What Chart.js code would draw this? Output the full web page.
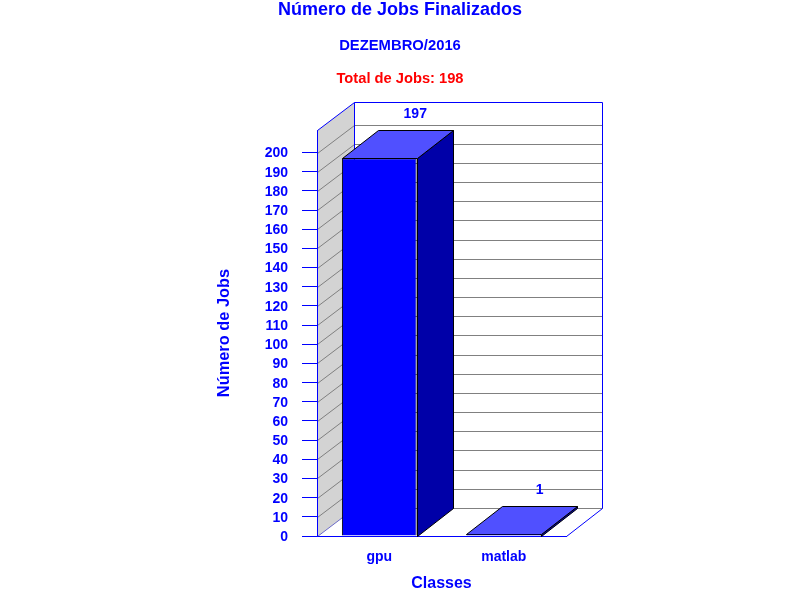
<!DOCTYPE html>
<html>
<head>
<meta charset="utf-8">
<style>html,body{margin:0;padding:0;background:#fff}canvas{display:block}</style>
<script src="https://cdn.jsdelivr.net/npm/chart.js@4/dist/chart.umd.min.js"></script>
</head>
<body>
<canvas id="c" width="800" height="600"></canvas>
<script>
const categories = ["gpu", "matlab"];
const jobs = [197, 1];
const chartTitle = "Número de Jobs Finalizados";
const chartSubtitle = "DEZEMBRO/2016";
const totalLabel = "Total de Jobs: 198";
const xAxisTitle = "Classes";
const yAxisTitle = "Número de Jobs";

const FF = '"Liberation Sans", Arial, sans-serif';
const DX = 36, DY = 28, WALL_DX = 37;
const BLUE = "#0000ff", GREY = "#808080";

function poly(ctx, pts, fill, stroke, lw) {
  ctx.beginPath();
  pts.forEach((p, i) => i ? ctx.lineTo(p[0], p[1]) : ctx.moveTo(p[0], p[1]));
  ctx.closePath();
  if (fill) { ctx.fillStyle = fill; ctx.fill(); }
  if (stroke) { ctx.strokeStyle = stroke; ctx.lineWidth = lw || 1; ctx.stroke(); }
}
function line(ctx, x1, y1, x2, y2, color, lw) {
  ctx.beginPath(); ctx.moveTo(x1, y1); ctx.lineTo(x2, y2);
  ctx.strokeStyle = color; ctx.lineWidth = lw || 1; ctx.stroke();
}

const box3d = {
  id: "box3d",
  beforeDatasetsDraw(chart) {
    const ctx = chart.ctx, a = chart.chartArea, ys = chart.scales.y;
    const L = a.left + .5, R = a.right + .5, T = a.top + .5, B = a.bottom + .5;
    ctx.save();
    poly(ctx, [[L, T], [L + WALL_DX, T - DY], [L + WALL_DX, B - DY], [L, B]], "#d3d3d3");
    ys.ticks.forEach(t => {
      const y = Math.round(ys.getPixelForValue(t.value)) + .5;
      line(ctx, L, y, L + WALL_DX, y - DY, t.value === 0 ? "#6a6ac8" : GREY);
      line(ctx, L + WALL_DX, y - DY, R + DX, y - DY, GREY);
    });
    line(ctx, L + WALL_DX, T - DY, L + WALL_DX, B - DY, BLUE);
    poly(ctx, [[L, T], [L + WALL_DX, T - DY], [R + DX, T - DY], [R + DX, B - DY], [R, B], [L, B]], null, BLUE);

    const meta = chart.getDatasetMeta(0);
    meta.data.forEach(el => {
      const p = el.getProps(["x", "y", "base", "width"], true);
      const l = Math.round(p.x - p.width / 2) + .5, r = Math.round(p.x + p.width / 2) + .5;
      const t = Math.round(p.y) + .5, b = Math.round(p.base) + .5;
      poly(ctx, [[r, t], [r + DX, t - DY], [r + DX, b - DY], [r, b]], "#0000a8", "#000000");
      poly(ctx, [[l, t], [l + DX, t - DY], [r + DX, t - DY], [r, t]], "#5050ff", "#000000");
    });
    ctx.restore();
  },
  afterDatasetsDraw(chart) {
    const ctx = chart.ctx;
    const meta = chart.getDatasetMeta(0);
    ctx.save();
    ctx.textAlign = "center"; ctx.textBaseline = "middle";
    ctx.font = "bold 14px " + FF; ctx.fillStyle = BLUE;
    meta.data.forEach((el, i) => {
      ctx.fillText(String(jobs[i]), el.x + DX, el.y - DY - 16);
    });
    ctx.font = "bold 14.7px " + FF;
    ctx.fillStyle = "#ff0000";
    ctx.fillText(totalLabel, 400, 79);
    ctx.restore();
  }
};

new Chart(document.getElementById("c"), {
  type: "bar",
  data: {
    labels: categories,
    datasets: [{
      data: jobs,
      backgroundColor: BLUE,
      borderColor: "#000000",
      borderWidth: 1,
      barPercentage: 0.6,
      categoryPercentage: 1
    }]
  },
  plugins: [box3d],
  options: {
    responsive: false,
    animation: false,
    devicePixelRatio: 1,
    layout: { padding: { left: 234, right: 234, top: 0, bottom: 7 } },
    plugins: {
      legend: { display: false },
      tooltip: { enabled: false },
      title: {
        display: true, text: chartTitle, color: BLUE,
        font: { family: FF, size: 18, weight: "bold", lineHeight: 1 },
        padding: { top: 1, bottom: 20 }
      },
      subtitle: {
        display: true, text: chartSubtitle, color: BLUE,
        font: { family: FF, size: 14.8, weight: "bold", lineHeight: 1 },
        padding: { top: 0, bottom: 76.2 }
      }
    },
    scales: {
      x: {
        grid: { display: false },
        border: { color: BLUE },
        ticks: { color: BLUE, padding: 5, font: { family: FF, size: 14, weight: "bold" } },
        title: { display: true, text: xAxisTitle, color: BLUE, padding: { top: 12, bottom: 0 },
                 font: { family: FF, size: 16, weight: "bold" } },
        afterFit(s) { s.height = 57; }
      },
      y: {
        min: 0, max: 211.8,
        border: { color: BLUE },
        grid: { drawOnChartArea: false, drawTicks: true, tickLength: 15, color: BLUE },
        ticks: { stepSize: 10, color: BLUE, padding: 14, labelOffset: 1, font: { family: FF, size: 14, weight: "bold" } },
        title: { display: true, text: yAxisTitle, color: BLUE, padding: { top: -19, bottom: 0 },
                 font: { family: FF, size: 16.4, weight: "bold" } },
        afterBuildTicks(s) { s.ticks = s.ticks.filter(t => t.value <= 200); },
        afterFit(s) { s.width = 83; }
      }
    }
  }
});
</script>
</body>
</html>
